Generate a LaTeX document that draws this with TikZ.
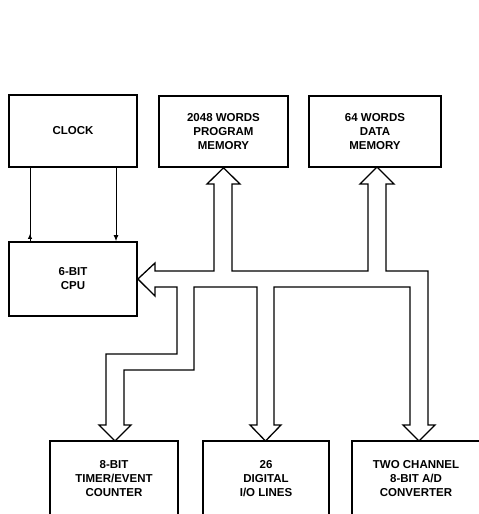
\documentclass[tikz,border=0pt]{standalone}
\usepackage{fontspec}
\setmainfont{Liberation Sans}
\usetikzlibrary{arrows.meta,decorations.markings}
\begin{document}
\begin{tikzpicture}[x=1pt,y=-1pt,
  blk/.style={draw,line width=1.7pt,inner sep=0pt,align=center,
    font=\fontsize{11.5}{14}\selectfont\bfseries},
  bus/.style={draw,line width=1.3pt,line join=miter},
  clk/.style={line width=1pt}]
\useasboundingbox (0,0) rectangle (479,514);
\begin{scope}
\clip (0,0) rectangle (479,514);
\node[blk,minimum width=128pt,minimum height=72pt] (clock) at (73,131) {CLOCK};
\node[blk,minimum width=129pt,minimum height=71pt] (prog) at (223.5,131.5) {2048 WORDS\\PROGRAM\\MEMORY};
\node[blk,minimum width=132pt,minimum height=71pt] (data) at (375,131.5) {64 WORDS\\DATA\\MEMORY};
\node[blk,minimum width=128pt,minimum height=74pt] (cpu) at (73,279) {6-BIT\\CPU};
\node[blk,minimum width=128pt,minimum height=76pt] (timer) at (114,479) {8-BIT\\TIMER/EVENT\\COUNTER};
\node[blk,minimum width=126pt,minimum height=76pt] (dio) at (266,479) {26\\DIGITAL\\I/O LINES};
\node[blk,minimum width=128pt,minimum height=76pt] (adc) at (416,479) {TWO CHANNEL\\8-BIT A/D\\CONVERTER};
\end{scope}
% clock lines
\coordinate (c1) at (clock.south -| 30,0);
\coordinate (c2) at (cpu.north -| 30,0);
\coordinate (c3) at (clock.south -| 116,0);
\coordinate (c4) at (cpu.north -| 116,0);
\draw[clk,postaction={decorate},decoration={markings,mark=at position 0.1 with {\arrow{Latex[length=5pt,width=4.5pt]}}}] (c2) -- (c1);
\draw[clk,-{Latex[length=6pt,width=5pt]}] (c3) -- (c4);
% bus
\path[bus] (cpu.east) -- (155,263) -- (155,271) -- (214,271) -- (214,184) -- (207,184)
  -- (prog.south) -- (240,184) -- (232,184) -- (232,271) -- (368,271) -- (368,184)
  -- (360,184) -- (377,167) -- (394,184) -- (386,184) -- (386,271) -- (428,271)
  -- (428,425) -- (435,425) -- (419,441) -- (403,425) -- (410,425) -- (410,287)
  -- (274,287) -- (274,425) -- (281,425) -- (265.5,441) -- (250,425) -- (257,425)
  -- (257,287) -- (194,287) -- (194,370) -- (124,370) -- (124,425) -- (131,425)
  -- (115,441) -- (99,425) -- (106,425) -- (106,354) -- (177,354) -- (177,287)
  -- (155,287) -- (155,296) -- cycle;
\end{tikzpicture}
\end{document}
